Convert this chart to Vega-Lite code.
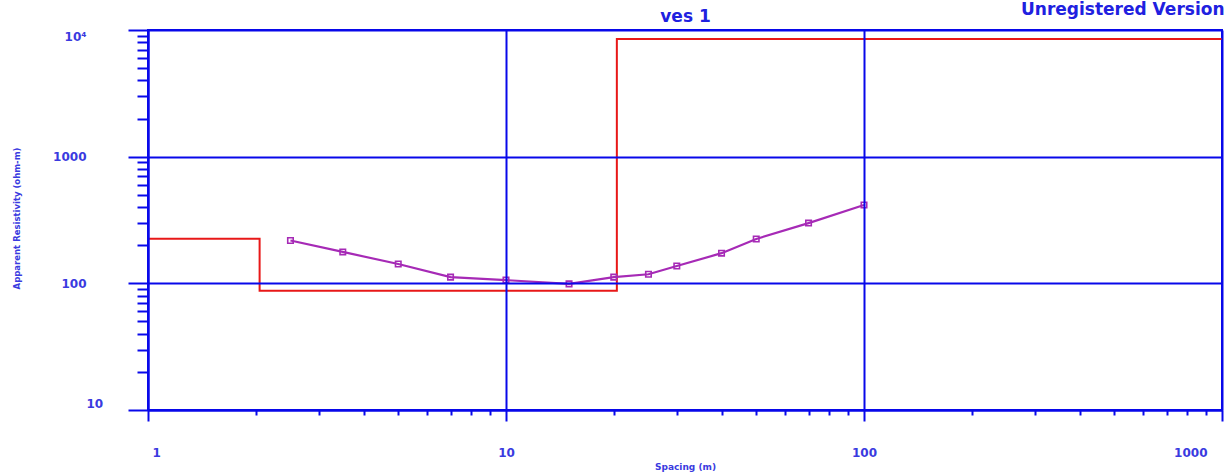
{
  "$schema": "https://vega.github.io/schema/vega-lite/v6.json",
  "width": 1074,
  "height": 380,
  "autosize": "none",
  "padding": {"left": 148, "top": 30, "right": 4, "bottom": 66},
  "background": "white",
  "config": {
    "view": {"stroke": "#0808ea", "strokeWidth": 2},
    "axis": {"labelFont": "DejaVu Sans", "titleFont": "DejaVu Sans"}
  },
  "datasets": {
    "model": [
      {"spacing": 1, "resistivity": 225},
      {"spacing": 2.05, "resistivity": 87.5},
      {"spacing": 20.4, "resistivity": 8500},
      {"spacing": 1000, "resistivity": 8500}
    ],
    "field": [
      {"spacing": 2.5, "resistivity": 218},
      {"spacing": 3.5, "resistivity": 177},
      {"spacing": 5, "resistivity": 142},
      {"spacing": 7, "resistivity": 112},
      {"spacing": 10, "resistivity": 106},
      {"spacing": 15, "resistivity": 99},
      {"spacing": 20, "resistivity": 112},
      {"spacing": 25, "resistivity": 118},
      {"spacing": 30, "resistivity": 137},
      {"spacing": 40, "resistivity": 173},
      {"spacing": 50, "resistivity": 224},
      {"spacing": 70, "resistivity": 299},
      {"spacing": 100, "resistivity": 415}
    ]
  },
  "layer": [
    {
      "data": {"name": "model"},
      "mark": {"type": "line", "interpolate": "step-after", "color": "#e81818", "strokeWidth": 2, "clip": true},
      "encoding": {
        "x": {
          "field": "spacing", "type": "quantitative",
          "scale": {"type": "log", "domain": [1, 1000], "nice": false},
          "axis": {
            "orient": "bottom", "values": [1, 10, 100, 1000], "format": "d",
            "title": "Spacing (m)",
            "grid": true, "gridColor": "#0808ea", "gridWidth": 2, "gridOpacity": 1,
            "domain": true, "domainColor": "#0808ea", "domainWidth": 2,
            "ticks": true, "tickColor": "#0808ea", "tickWidth": 2, "tickSize": 11,
            "labelFontWeight": "bold", "labelFontSize": 12, "labelColor": "#3a3ae0",
            "labelPadding": 26, "labelFlush": false, "labelOverlap": false, "labelBound": false,
            "labelAlign": {"condition": [{"test": "datum.value <= 1", "value": "left"}, {"test": "datum.value >= 1000", "value": "right"}], "value": "center"},
            "labelOffset": {"condition": [{"test": "datum.value <= 1", "value": 4}, {"test": "datum.value >= 1000", "value": -15}], "value": 0},
            "titleFontSize": 9, "titleFontWeight": "bold", "titleColor": "#3a3ae0",
            "titleX": 537, "titleY": 52, "titleBaseline": "top", "titleAlign": "center",
            "zindex": 1
          }
        },
        "y": {
          "field": "resistivity", "type": "quantitative",
          "scale": {"type": "log", "domain": [10, 10000], "nice": false},
          "axis": {
            "orient": "left", "values": [10, 100, 1000, 10000],
            "labelExpr": "datum.value == 10000 ? '10⁴' : format(datum.value, 'd')",
            "title": "Apparent Resistivity (ohm-m)",
            "grid": true, "gridColor": "#0808ea", "gridWidth": 2, "gridOpacity": 1,
            "domain": true, "domainColor": "#0808ea", "domainWidth": 2,
            "ticks": true, "tickColor": "#0808ea", "tickWidth": 2, "tickSize": 20,
            "labelFontWeight": "bold", "labelFontSize": 12, "labelColor": "#3a3ae0",
            "labelPadding": 42, "labelOverlap": false, "labelBound": false, "labelFlush": false,
            "labelBaseline": "middle",
            "labelAlign": {"condition": {"test": "datum.value <= 10", "value": "left"}, "value": "right"},
            "labelOffset": {"condition": [{"test": "datum.value <= 10", "value": -7}, {"test": "datum.value >= 10000", "value": 6}], "value": 0},
            "titleFontSize": 8.5, "titleFontWeight": "bold", "titleColor": "#3a3ae0",
            "titleX": -132, "titleY": 188, "titleAngle": -90, "titleAlign": "center", "titleBaseline": "middle",
            "zindex": 1
          }
        }
      }
    },
    {
      "data": {"name": "field"},
      "mark": {"type": "line", "color": "#a62ab6", "strokeWidth": 2.2, "clip": true},
      "encoding": {
        "x": {
          "field": "spacing", "type": "quantitative",
          "scale": {"type": "log", "domain": [1, 1000], "nice": false},
          "axis": {
            "orient": "bottom",
            "values": [2, 3, 4, 5, 6, 7, 8, 9, 20, 30, 40, 50, 60, 70, 80, 90, 200, 300, 400, 500, 600, 700, 800, 900],
            "title": null, "labels": false, "grid": false, "domain": false,
            "ticks": true, "tickColor": "#0808ea", "tickWidth": 2, "tickSize": 5, "zindex": 1
          }
        },
        "y": {
          "field": "resistivity", "type": "quantitative",
          "scale": {"type": "log", "domain": [10, 10000], "nice": false},
          "axis": {
            "orient": "left",
            "values": [20, 30, 40, 50, 60, 70, 80, 90, 200, 300, 400, 500, 600, 700, 800, 900, 2000, 3000, 4000, 5000, 6000, 7000, 8000, 9000],
            "title": null, "labels": false, "grid": false, "domain": false,
            "ticks": true, "tickColor": "#0808ea", "tickWidth": 2, "tickSize": 11, "zindex": 1
          }
        }
      }
    },
    {
      "data": {"name": "field"},
      "mark": {"type": "point", "shape": "square", "filled": false, "color": "#a62ab6", "size": 30, "strokeWidth": 1.6, "opacity": 1},
      "encoding": {
        "x": {
          "field": "spacing", "type": "quantitative",
          "scale": {"type": "log", "domain": [1, 1000], "nice": false},
          "axis": {
            "orient": "top", "title": "ves 1", "labels": false, "ticks": false, "domain": false, "grid": false,
            "titleFontSize": 17, "titleFontWeight": "bold", "titleColor": "#2020e0",
            "titleX": 537, "titleY": -9, "titleAlign": "center", "titleBaseline": "alphabetic"
          }
        },
        "y": {
          "field": "resistivity", "type": "quantitative",
          "scale": {"type": "log", "domain": [10, 10000], "nice": false},
          "axis": {
            "orient": "right", "title": "Unregistered Version", "labels": false, "ticks": false, "domain": false, "grid": false,
            "titleFontSize": 17, "titleFontWeight": "bold", "titleColor": "#2020e0",
            "titleAngle": 0, "titleX": 2, "titleY": -29, "titleAlign": "right", "titleBaseline": "top"
          }
        }
      }
    }
  ],
  "resolve": {"axis": {"x": "independent", "y": "independent"}}
}
